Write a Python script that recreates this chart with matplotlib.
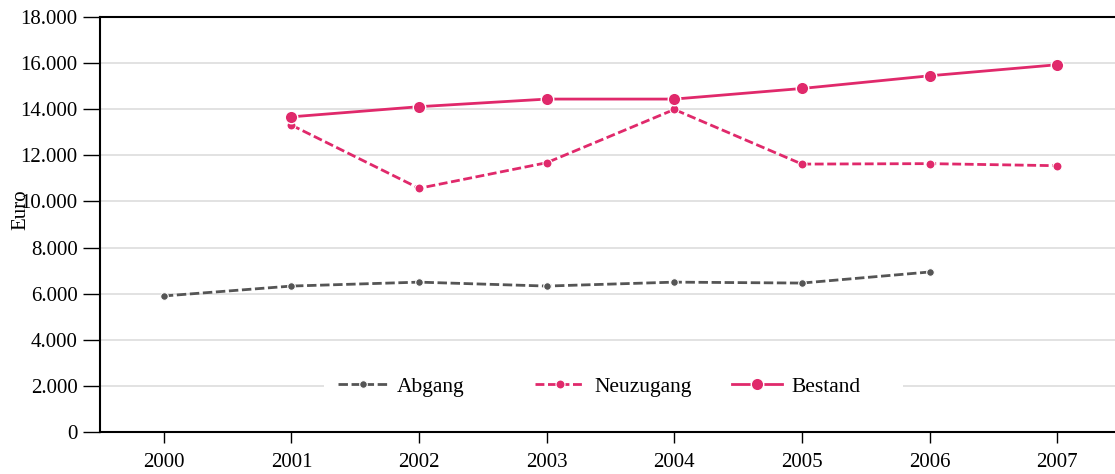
import matplotlib.pyplot as plt
import matplotlib.ticker as mticker
from matplotlib.patches import Rectangle
from matplotlib.legend import Legend

years = [2000, 2001, 2002, 2003, 2004, 2005, 2006, 2007]
abgang_years = [2000, 2001, 2002, 2003, 2004, 2005, 2006]
abgang = [5900, 6330, 6500, 6330, 6500, 6460, 6940]
neu_years = [2001, 2002, 2003, 2004, 2005, 2006, 2007]
neuzugang = [13310, 10570, 11680, 13990, 11620, 11640, 11550]
bestand = [13670, 14110, 14440, 14440, 14900, 15450, 15930]

pink = '#E0296B'
grey = '#555555'

plt.rcParams['font.family'] = ['Liberation Serif', 'DejaVu Serif']
plt.rcParams['font.size'] = 15

W, H = 1115, 474
fig = plt.figure(figsize=(W / 100, H / 100), dpi=100)
# axes runs slightly past the right edge, as in the original
ax = fig.add_axes([100 / W, 1 - 432 / H, 1021 / W, 415 / H])
pw = 1021  # axes width in px

l1, = ax.plot(abgang_years, abgang, color=grey, lw=2, dashes=(3.4, 1.3), marker='o', ms=5.5,
              mec='white', mew=0.8, zorder=3)
l2, = ax.plot(neu_years, neuzugang, color=pink, lw=2, dashes=(3.2, 1.3), marker='o', ms=6.5,
              mec='white', mew=0.8, zorder=3)
l3, = ax.plot(neu_years, bestand, color=pink, lw=2, marker='o', ms=9,
              mec='white', mew=1, zorder=3)

ax.set_xlim(1999.5, 2007.5)
ax.set_ylim(0, 18000)
ax.set_xticks(years)
ax.set_yticks(range(0, 18001, 2000))
ax.yaxis.set_major_formatter(mticker.FuncFormatter(lambda v, p: f'{int(v):,}'.replace(',', '.')))
ax.grid(axis='y', color='#dddddd', lw=1.2)
ax.set_axisbelow(True)
ax.spines['right'].set_visible(False)
for s in ['left', 'top', 'bottom']:
    ax.spines[s].set_linewidth(1.5)
ax.tick_params(axis='y', length=12, width=1, labelsize=15, pad=4)
ax.tick_params(axis='x', length=8, width=1, labelsize=15, pad=7)
ax.set_ylabel('Euro', fontsize=15)
ax.yaxis.set_label_coords(-0.068, 0.535)

# white band behind the legend
ax.add_patch(Rectangle(((324 - 100) / pw, (432 - 398) / 415), (903 - 324) / pw, 24 / 415,
                       transform=ax.transAxes, facecolor='white', edgecolor='none', zorder=1))

# legend entries sit in equal-width slots
for handle, name, xpx in [(l1, 'Abgang', 338), (l2, 'Neuzugang', 535), (l3, 'Bestand', 732)]:
    lg = Legend(ax, [handle], [name], loc='center left',
                bbox_to_anchor=((xpx - 100) / pw, (432 - 387) / 415),
                frameon=False, borderpad=0, borderaxespad=0, handlelength=2.3,
                handletextpad=0.45, fontsize=15.5)
    ax.add_artist(lg)

fig.savefig('out.png', dpi=100)
